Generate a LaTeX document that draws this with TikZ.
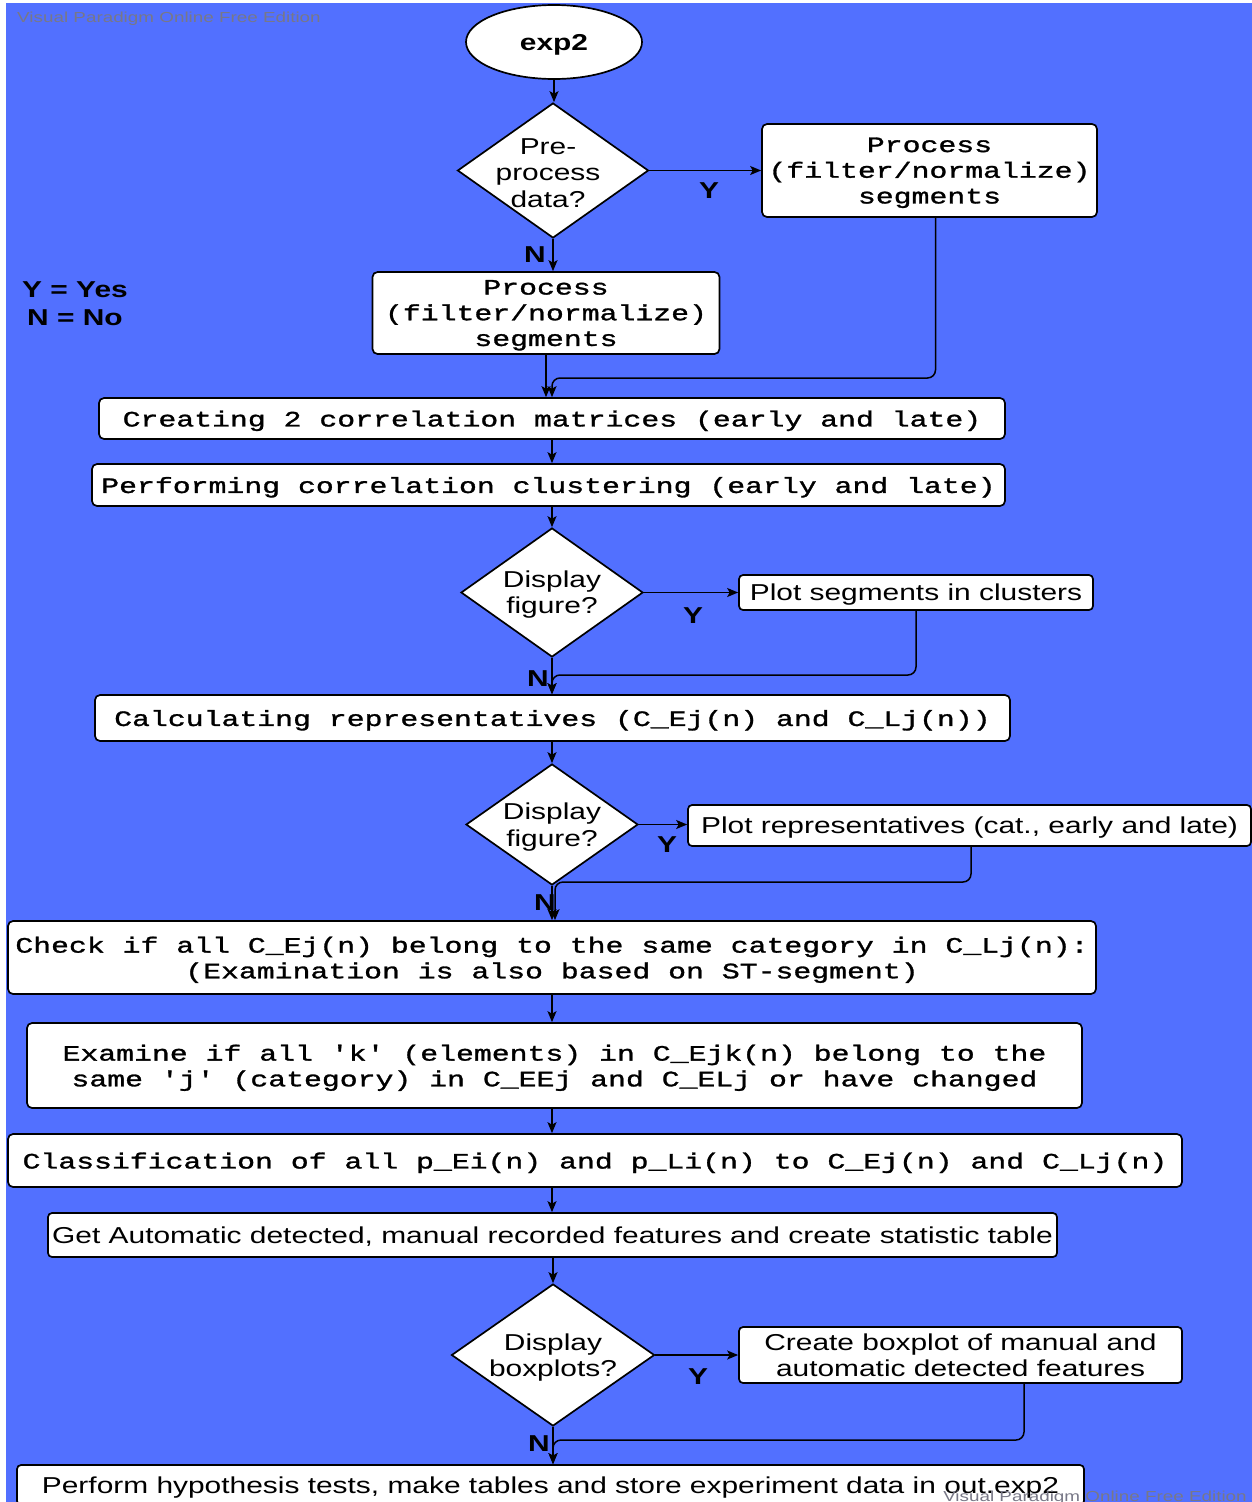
\documentclass[tikz,border=0pt]{standalone}
\usepackage{fontspec}
\setmainfont[FakeStretch=1.3]{Liberation Sans}
\newfontfamily\monof[FakeStretch=1.355,FakeBold=1.3]{Liberation Mono}
\usetikzlibrary{shapes.geometric,arrows.meta}
\definecolor{canvasblue}{RGB}{82,112,255}
\definecolor{wmgray}{RGB}{120,120,135}

\begin{document}
\begin{tikzpicture}[x=1pt,y=-1pt,
  mbox/.style={draw, line width=1.7pt, fill=white, rounded corners=5pt, inner sep=0pt,
    align=center, text depth=0pt, font=\monof\fontsize{22}{25.7}\selectfont},
  sbox/.style={draw, line width=1.7pt, fill=white, rounded corners=4pt, inner sep=0pt,
    align=center, text depth=0pt, font=\fontsize{23}{26.5}\selectfont},
  dia/.style={draw, diamond, fill=white, line width=1.7pt, inner sep=0pt},
  diatext/.style={inner sep=0pt, align=center, font=\fontsize{23}{26.5}\selectfont},
  arr/.style={line width=1.5pt, -{Stealth[length=11pt,width=9pt,inset=2.5pt]}},
  merge/.style={arr, rounded corners=8pt},
  lab/.style={inner sep=0pt, font=\bfseries\fontsize{23}{26}\selectfont},
  wm/.style={inner sep=0pt, text=wmgray, font=\fontsize{14.5}{16}\selectfont}]

% canvas
\clip (0,0) rectangle (1252,1502);
\fill[white] (0,0) rectangle (1252,1502);
\fill[canvasblue] (6,3) rectangle (1252,1502);

% start
\node[draw, ellipse, fill=white, line width=1.7pt, minimum width=176pt, minimum height=74pt,
  inner sep=0pt, text depth=0pt, font=\bfseries\fontsize{23}{26}\selectfont] (e0) at (554,42) {exp2};

% pre-processing
\node[dia, minimum width=191pt, minimum height=135pt] (d1) at (553,170.5) {};
\node[diatext] (d1t) at (548,173) {Pre-\\process\\data?};
\node[mbox, minimum width=335pt, minimum height=93pt] (p1) at (929.5,170.5)
  {Process\\(filter/normalize)\\segments};
\node[mbox, minimum width=347pt, minimum height=82pt] (p2) at (546,313)
  {Process\\(filter/normalize)\\segments};

% legend
\node[lab, align=center, font=\bfseries\fontsize{23}{28}\selectfont] (legend) at (75,304)
  {Y = Yes\\N = No};

% correlation and clustering
\node[mbox, minimum width=906pt, minimum height=41pt] (c1) at (552,418.5)
  {Creating 2 correlation matrices (early and late)};
\node[mbox, minimum width=913pt, minimum height=42pt] (c2) at (548.5,485)
  {Performing correlation clustering (early and late)};

\node[dia, minimum width=182pt, minimum height=129pt] (d2) at (552,592.5) {};
\node[diatext] (d2t) at (552,594.5) {Display\\figure?};
\node[sbox, minimum width=354pt, minimum height=35pt] (s1) at (916,592.5)
  {Plot segments in clusters};

\node[mbox, minimum width=915pt, minimum height=46pt] (calc) at (552.5,718)
  {Calculating representatives (C\_Ej(n) and C\_Lj(n))};

\node[dia, minimum width=172pt, minimum height=121pt] (d3) at (552,824.5) {};
\node[diatext] (d3t) at (552,827) {Display\\figure?};
\node[sbox, minimum width=563pt, minimum height=41pt] (s2) at (969.5,825.5)
  {Plot representatives (cat., early and late)};

% examination and classification
\node[mbox, minimum width=1088pt, minimum height=73pt] (chk) at (552,957.5)
  {Check if all C\_Ej(n) belong to the same category in C\_Lj(n):\\(Examination is also based on ST-segment)};
\node[mbox, minimum width=1055pt, minimum height=85pt] (exm) at (554.5,1065.5)
  {Examine if all 'k' (elements) in C\_Ejk(n) belong to the\\same 'j' (category) in C\_EEj and C\_ELj or have changed};
\node[mbox, minimum width=1174pt, minimum height=53pt] (cls) at (595,1160.5)
  {Classification of all p\_Ei(n) and p\_Li(n) to C\_Ej(n) and C\_Lj(n)};
\node[sbox, minimum width=1009pt, minimum height=44pt] (get) at (552.5,1235)
  {Get Automatic detected, manual recorded features and create statistic table};

\node[dia, minimum width=203pt, minimum height=142pt] (d4) at (553,1355) {};
\node[diatext] (d4t) at (553,1357.5) {Display\\boxplots?};
\node[sbox, minimum width=443pt, minimum height=56pt] (bxp) at (960.5,1355)
  {Create boxplot of manual and\\automatic detected features};

\node[sbox, minimum width=1067pt, minimum height=40pt] (prf) at (550.5,1485)
  {Perform hypothesis tests, make tables and store experiment data in out.exp2};

% junctions where side branches rejoin the main flow
\coordinate (m1) at (552,378);
\coordinate (m2) at (552,675);
\coordinate (m3) at (555,882);
\coordinate (m4) at (553,1440);

% connectors
\draw[arr] (e0.south) -- (e0.south |- d1.north);
\draw[arr] (d1.east) -- (d1.east -| p1.west);
\draw[arr] (d1.south) -- (d1.south |- p2.north);
\draw[arr] (p2.south) -- (p2.south |- c1.north);
\draw[merge] ([xshift=6pt]p1.south) |- (m1) -- (m1 |- c1.north);
\draw[arr] (c1.south) -- (c1.south |- c2.north);
\draw[arr] (d2.north |- c2.south) -- (d2.north);
\draw[arr] (d2.east) -- (d2.east -| s1.west);
\draw[arr] (d2.south) -- (d2.south |- calc.north);
\draw[merge] (s1.south) |- (m2) -- (m2 |- calc.north);
\draw[arr] (d3.north |- calc.south) -- (d3.north);
\draw[arr] (d3.east) -- (d3.east -| s2.west);
\draw[arr] (d3.south) -- (d3.south |- chk.north);
\draw[merge] ([xshift=1.5pt]s2.south) |- (m3) -- (m3 |- chk.north);
\draw[arr] (chk.south) -- (chk.south |- exm.north);
\draw[arr] (chk.south |- exm.south) -- (chk.south |- cls.north);
\draw[arr] (chk.south |- cls.south) -- (chk.south |- get.north);
\draw[arr] (d4.north |- get.south) -- (d4.north);
\draw[arr] (d4.east) -- (d4.east -| bxp.west);
\draw[arr] (d4.south) -- (d4.south |- prf.north);
\draw[merge] ([xshift=63.5pt]bxp.south) |- (m4) -- (m4 |- prf.north);

% branch labels
\node[lab] (y1) at (709,191) {Y};
\node[lab] (n1) at (535,255) {N};
\node[lab] (y2) at (693,616) {Y};
\node[lab] (n2) at (538,679) {N};
\node[lab] (y3) at (667,845) {Y};
\node[lab] (n3) at (545,903) {N};
\node[lab] (y4) at (698,1377) {Y};
\node[lab] (n4) at (539,1444) {N};

% editor watermarks
\node[wm] (wmt) at (169,19) {Visual Paradigm Online Free Edition};
\node[wm] (wmb) at (1095,1498) {Visual Paradigm Online Free Edition};
\end{tikzpicture}
\end{document}
